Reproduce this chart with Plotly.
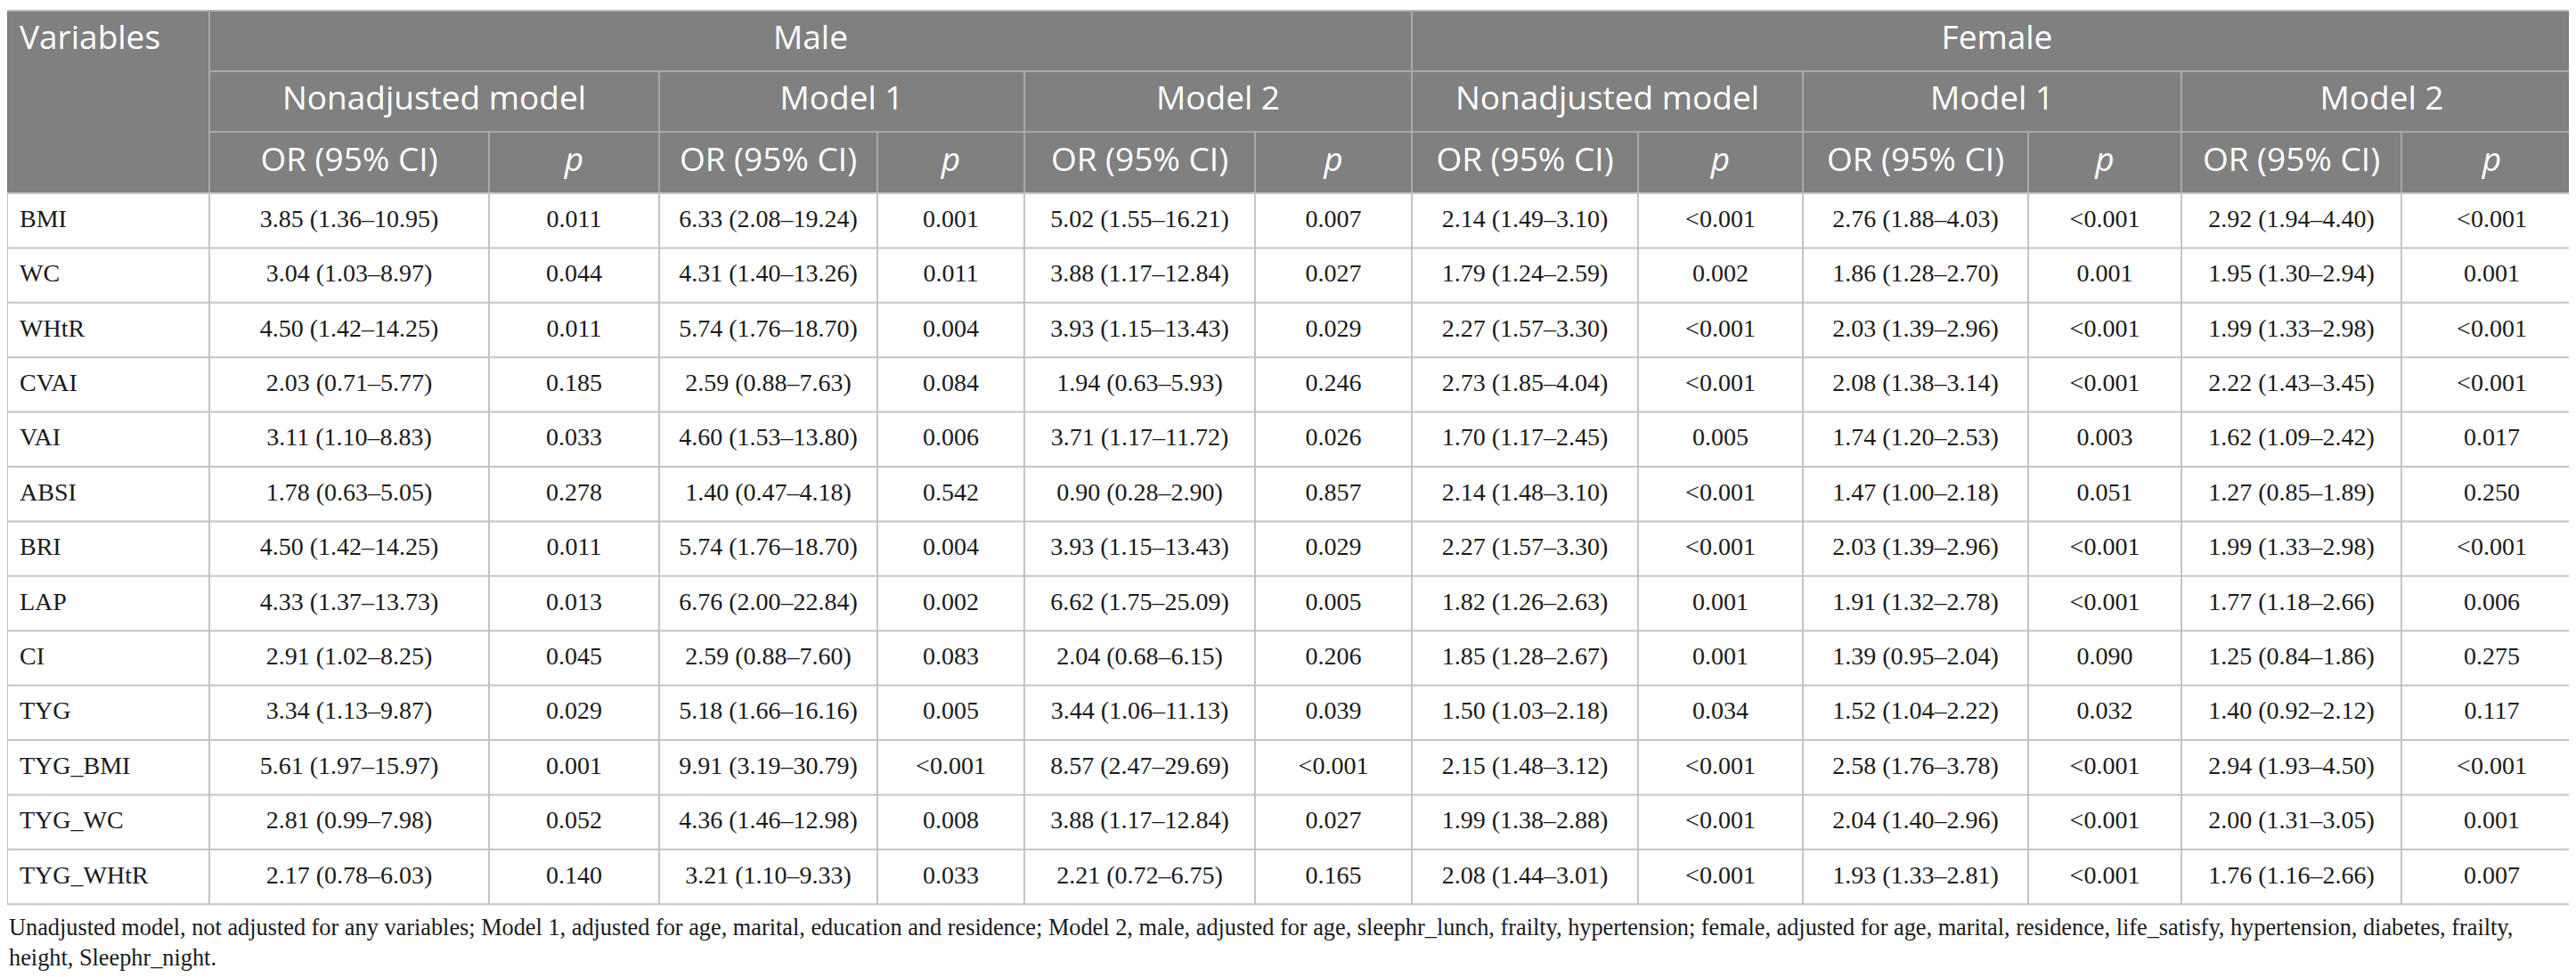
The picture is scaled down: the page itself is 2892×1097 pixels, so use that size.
import plotly.graph_objects as go

variables = ['BMI', 'WC', 'WHtR', 'CVAI', 'VAI', 'ABSI', 'BRI', 'LAP', 'CI', 'TYG', 'TYG_BMI', 'TYG_WC', 'TYG_WHtR']

male_crude_or = ['3.85 (1.36–10.95)', '3.04 (1.03–8.97)', '4.50 (1.42–14.25)', '2.03 (0.71–5.77)', '3.11 (1.10–8.83)',
                 '1.78 (0.63–5.05)', '4.50 (1.42–14.25)', '4.33 (1.37–13.73)', '2.91 (1.02–8.25)', '3.34 (1.13–9.87)',
                 '5.61 (1.97–15.97)', '2.81 (0.99–7.98)', '2.17 (0.78–6.03)']
male_crude_p = ['0.011', '0.044', '0.011', '0.185', '0.033', '0.278', '0.011', '0.013', '0.045', '0.029', '0.001', '0.052', '0.140']
male_m1_or = ['6.33 (2.08–19.24)', '4.31 (1.40–13.26)', '5.74 (1.76–18.70)', '2.59 (0.88–7.63)', '4.60 (1.53–13.80)',
              '1.40 (0.47–4.18)', '5.74 (1.76–18.70)', '6.76 (2.00–22.84)', '2.59 (0.88–7.60)', '5.18 (1.66–16.16)',
              '9.91 (3.19–30.79)', '4.36 (1.46–12.98)', '3.21 (1.10–9.33)']
male_m1_p = ['0.001', '0.011', '0.004', '0.084', '0.006', '0.542', '0.004', '0.002', '0.083', '0.005', '<0.001', '0.008', '0.033']
male_m2_or = ['5.02 (1.55–16.21)', '3.88 (1.17–12.84)', '3.93 (1.15–13.43)', '1.94 (0.63–5.93)', '3.71 (1.17–11.72)',
              '0.90 (0.28–2.90)', '3.93 (1.15–13.43)', '6.62 (1.75–25.09)', '2.04 (0.68–6.15)', '3.44 (1.06–11.13)',
              '8.57 (2.47–29.69)', '3.88 (1.17–12.84)', '2.21 (0.72–6.75)']
male_m2_p = ['0.007', '0.027', '0.029', '0.246', '0.026', '0.857', '0.029', '0.005', '0.206', '0.039', '<0.001', '0.027', '0.165']

female_crude_or = ['2.14 (1.49–3.10)', '1.79 (1.24–2.59)', '2.27 (1.57–3.30)', '2.73 (1.85–4.04)', '1.70 (1.17–2.45)',
                   '2.14 (1.48–3.10)', '2.27 (1.57–3.30)', '1.82 (1.26–2.63)', '1.85 (1.28–2.67)', '1.50 (1.03–2.18)',
                   '2.15 (1.48–3.12)', '1.99 (1.38–2.88)', '2.08 (1.44–3.01)']
female_crude_p = ['<0.001', '0.002', '<0.001', '<0.001', '0.005', '<0.001', '<0.001', '0.001', '0.001', '0.034',
                  '<0.001', '<0.001', '<0.001']
female_m1_or = ['2.76 (1.88–4.03)', '1.86 (1.28–2.70)', '2.03 (1.39–2.96)', '2.08 (1.38–3.14)', '1.74 (1.20–2.53)',
                '1.47 (1.00–2.18)', '2.03 (1.39–2.96)', '1.91 (1.32–2.78)', '1.39 (0.95–2.04)', '1.52 (1.04–2.22)',
                '2.58 (1.76–3.78)', '2.04 (1.40–2.96)', '1.93 (1.33–2.81)']
female_m1_p = ['<0.001', '0.001', '<0.001', '<0.001', '0.003', '0.051', '<0.001', '<0.001', '0.090', '0.032',
               '<0.001', '<0.001', '<0.001']
female_m2_or = ['2.92 (1.94–4.40)', '1.95 (1.30–2.94)', '1.99 (1.33–2.98)', '2.22 (1.43–3.45)', '1.62 (1.09–2.42)',
                '1.27 (0.85–1.89)', '1.99 (1.33–2.98)', '1.77 (1.18–2.66)', '1.25 (0.84–1.86)', '1.40 (0.92–2.12)',
                '2.94 (1.93–4.50)', '2.00 (1.31–3.05)', '1.76 (1.16–2.66)']
female_m2_p = ['<0.001', '0.001', '<0.001', '<0.001', '0.017', '0.250', '<0.001', '0.006', '0.275', '0.117',
               '<0.001', '0.001', '0.007']

groups = ['Male', 'Female']
models = ['Nonadjusted model', 'Model 1', 'Model 2']
sub_headers = ['OR (95% CI)', '<i>p</i>']

footnote = ('Unadjusted model, not adjusted for any variables; Model 1, adjusted for age, marital, education and residence; '
            'Model 2, male, adjusted for age, sleephr_lunch, frailty, hypertension; female, adjusted for age, marital, '
            'residence, life_satisfy, hypertension, diabetes, frailty,<br>height, Sleephr_night.')

data_columns = [male_crude_or, male_crude_p, male_m1_or, male_m1_p, male_m2_or, male_m2_p,
                female_crude_or, female_crude_p, female_m1_or, female_m1_p, female_m2_or, female_m2_p]

# layout of the table in pixels
W, H = 2892, 1097
col_edges = [0, 227, 541, 732, 977, 1142, 1401, 1577, 1831, 2016, 2269, 2441, 2688, 2891]
head_edges = [4, 72, 140, 209]
row_h = 61.4
body_edges = [head_edges[-1] + i * row_h for i in range(len(variables) + 1)]

HEAD_BG = '#808080'
HEAD_LINE = '#a9a9a9'
GRID = '#c4c4c4'
HEAD_FONT = dict(family='Open Sans', size=37, color='white')
BODY_FONT = dict(family='Liberation Serif', size=28, color='#1a1a1a')

fig = go.Figure()
shapes = []

# header background
shapes.append(dict(type='rect', x0=col_edges[0], x1=col_edges[-1], y0=head_edges[0], y1=head_edges[-1],
                   fillcolor=HEAD_BG, line_width=0, layer='below'))


def line(x0, y0, x1, y1, color, width=2):
    shapes.append(dict(type='line', x0=x0, x1=x1, y0=y0, y1=y1, line=dict(color=color, width=width)))


# header lines
line(col_edges[0], head_edges[0], col_edges[-1], head_edges[0], '#b8b8b8')
line(col_edges[1], head_edges[1], col_edges[-1], head_edges[1], HEAD_LINE)
line(col_edges[1], head_edges[2], col_edges[-1], head_edges[2], HEAD_LINE)
line(col_edges[1], head_edges[0], col_edges[1], head_edges[3], HEAD_LINE)
line(col_edges[7], head_edges[0], col_edges[7], head_edges[3], HEAD_LINE)
for k in [3, 5, 9, 11]:
    line(col_edges[k], head_edges[1], col_edges[k], head_edges[3], HEAD_LINE)
for k in [2, 4, 6, 8, 10, 12]:
    line(col_edges[k], head_edges[2], col_edges[k], head_edges[3], HEAD_LINE)

# body grid
for y in body_edges:
    line(col_edges[0], y, col_edges[-1], y, GRID)
for x in col_edges:
    line(x, body_edges[0], x, body_edges[-1], GRID)


def mid(a, b):
    return (a + b) / 2


def add_text(xs, ys, texts, font, pos='middle center'):
    fig.add_trace(go.Scatter(x=xs, y=ys, text=texts, mode='text', textposition=pos,
                             textfont=font, hoverinfo='skip', showlegend=False))


# header text
add_text([col_edges[0] + 14], [mid(head_edges[0], head_edges[1])], ['Variables'], HEAD_FONT, 'middle right')
add_text([mid(col_edges[1], col_edges[7]), mid(col_edges[7], col_edges[13])],
         [mid(head_edges[0], head_edges[1])] * 2, groups, HEAD_FONT)
model_x = [mid(col_edges[1 + 2 * i], col_edges[3 + 2 * i]) for i in range(6)]
add_text(model_x, [mid(head_edges[1], head_edges[2])] * 6, models * 2, HEAD_FONT)
sub_x = [mid(col_edges[i + 1], col_edges[i + 2]) for i in range(12)]
add_text(sub_x, [mid(head_edges[2], head_edges[3])] * 12, sub_headers * 6, HEAD_FONT)

# body text
row_y = [mid(body_edges[i], body_edges[i + 1]) for i in range(len(variables))]
add_text([col_edges[0] + 14] * len(variables), row_y, variables, BODY_FONT, 'middle right')
for i, col in enumerate(data_columns):
    add_text([sub_x[i]] * len(col), row_y, col, BODY_FONT)

fig.add_annotation(x=0, y=body_edges[-1] + 10, xref='x', yref='y', xanchor='left', yanchor='top', align='left',
                   text=footnote, showarrow=False, font=dict(family='Liberation Serif', size=26.3, color='#1a1a1a'))

fig.update_layout(width=W, height=H, margin=dict(l=0, r=0, t=0, b=0), shapes=shapes,
                  plot_bgcolor='white', paper_bgcolor='white', showlegend=False,
                  xaxis=dict(range=[0, W], visible=False, fixedrange=True),
                  yaxis=dict(range=[H, 0], visible=False, fixedrange=True))
fig.write_html('out.html')
